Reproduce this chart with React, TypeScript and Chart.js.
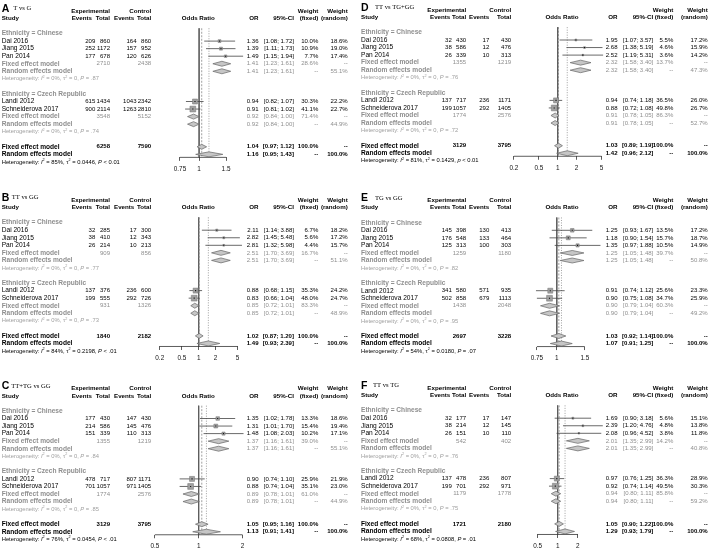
import React, { useEffect, useRef } from "react";
import { Chart, registerables } from "chart.js";

Chart.register(...registerables);

// ---------------- shared labels ----------------
const STUDIES = ["Dai 2016", "Jiang 2015", "Pan 2014", "Landi 2012", "Schneiderova 2017"];
const GROUP_LABELS = ["Ethnicity = Chinese", "Ethnicity = Czech Republic"];

// ---------------- Panel A: T vs G ----------------
const A_EXP_EV = [209, 252, 177, 615, 900];
const A_EXP_N = [860, 1172, 678, 1434, 2114];
const A_CTL_EV = [164, 157, 120, 1043, 1263];
const A_CTL_N = [860, 952, 626, 2342, 2810];
const A_OR = [1.36, 1.39, 1.49, 0.94, 0.91];
const A_LO = [1.08, 1.11, 1.15, 0.82, 0.81];
const A_HI = [1.72, 1.73, 1.94, 1.07, 1.02];
const A_WF = [10.0, 10.9, 7.7, 30.3, 41.1];
const A_WR = [18.6, 19.0, 17.4, 22.2, 22.7];
const A_POOL_OR = [1.41, 1.41, 0.92, 0.92, 1.04, 1.16];
const A_POOL_LO = [1.23, 1.23, 0.84, 0.84, 0.97, 0.95];
const A_POOL_HI = [1.61, 1.61, 1.0, 1.0, 1.12, 1.43];
const A_POOL_W = [28.6, 55.1, 71.4, 44.9, 100.0, 100.0];
const A_SUM_EXP = [2710, 3548, 6258];
const A_SUM_CTL = [2438, 5152, 7590];
const A_HET_I2 = ["0%", "0%", "85%"];
const A_HET_TAU2 = ["0", "0", "0.0446"];
const A_HET_P = ["P = .87", "P = .74", "P < 0.01"];
const A_TICKS = [0.75, 1, 1.5];

// ---------------- Panel B: TT vs GG ----------------
const B_EXP_EV = [32, 38, 26, 137, 199];
const B_EXP_N = [285, 410, 214, 376, 555];
const B_CTL_EV = [17, 12, 10, 236, 292];
const B_CTL_N = [300, 343, 213, 600, 726];
const B_OR = [2.11, 2.82, 2.81, 0.88, 0.83];
const B_LO = [1.14, 1.45, 1.32, 0.68, 0.66];
const B_HI = [3.88, 5.48, 5.98, 1.15, 1.04];
const B_WF = [6.7, 5.6, 4.4, 35.3, 48.0];
const B_WR = [18.2, 17.2, 15.7, 24.2, 24.7];
const B_POOL_OR = [2.51, 2.51, 0.85, 0.85, 1.02, 1.49];
const B_POOL_LO = [1.7, 1.7, 0.72, 0.72, 0.87, 0.93];
const B_POOL_HI = [3.69, 3.69, 1.01, 1.01, 1.2, 2.39];
const B_POOL_W = [16.7, 51.1, 83.3, 48.9, 100.0, 100.0];
const B_SUM_EXP = [909, 931, 1840];
const B_SUM_CTL = [856, 1326, 2182];
const B_HET_I2 = ["0%", "0%", "84%"];
const B_HET_TAU2 = ["0", "0", "0.2198"];
const B_HET_P = ["P = .77", "P = .73", "P < .01"];
const B_TICKS = [0.2, 0.5, 1, 2, 5];

// ---------------- Panel C: TT+TG vs GG ----------------
const C_EXP_EV = [177, 214, 151, 478, 701];
const C_EXP_N = [430, 586, 339, 717, 1057];
const C_CTL_EV = [147, 145, 110, 807, 971];
const C_CTL_N = [430, 476, 313, 1171, 1405];
const C_OR = [1.35, 1.31, 1.48, 0.9, 0.88];
const C_LO = [1.02, 1.01, 1.08, 0.74, 0.74];
const C_HI = [1.78, 1.7, 2.03, 1.1, 1.04];
const C_WF = [13.3, 15.4, 10.2, 25.9, 35.1];
const C_WR = [18.6, 19.4, 17.1, 21.9, 23.0];
const C_POOL_OR = [1.37, 1.37, 0.89, 0.89, 1.05, 1.13];
const C_POOL_LO = [1.16, 1.16, 0.78, 0.78, 0.95, 0.91];
const C_POOL_HI = [1.61, 1.61, 1.01, 1.01, 1.16, 1.41];
const C_POOL_W = [39.0, 55.1, 61.0, 44.9, 100.0, 100.0];
const C_SUM_EXP = [1355, 1774, 3129];
const C_SUM_CTL = [1219, 2576, 3795];
const C_HET_I2 = ["0%", "0%", "76%"];
const C_HET_TAU2 = ["0", "0", "0.0454"];
const C_HET_P = ["P = .84", "P = .85", "P < .01"];
const C_TICKS = [0.5, 1, 2];

// ---------------- Panel D: TT vs TG+GG ----------------
const D_EXP_EV = [32, 38, 26, 137, 199];
const D_EXP_N = [430, 586, 339, 717, 1057];
const D_CTL_EV = [17, 12, 10, 236, 292];
const D_CTL_N = [430, 476, 313, 1171, 1405];
const D_OR = [1.95, 2.68, 2.52, 0.94, 0.88];
const D_LO = [1.07, 1.38, 1.19, 0.74, 0.72];
const D_HI = [3.57, 5.19, 5.31, 1.18, 1.08];
const D_WF = [5.5, 4.6, 3.6, 36.5, 49.8];
const D_WR = [17.2, 15.9, 14.2, 26.0, 26.7];
const D_POOL_OR = [2.32, 2.32, 0.91, 0.91, 1.03, 1.42];
const D_POOL_LO = [1.58, 1.58, 0.78, 0.78, 0.89, 0.96];
const D_POOL_HI = [3.4, 3.4, 1.05, 1.05, 1.19, 2.12];
const D_POOL_W = [13.7, 47.3, 86.3, 52.7, 100.0, 100.0];
const D_SUM_EXP = [1355, 1774, 3129];
const D_SUM_CTL = [1219, 2576, 3795];
const D_HET_I2 = ["0%", "0%", "81%"];
const D_HET_TAU2 = ["0", "0", "0.1429"];
const D_HET_P = ["P = .76", "P = .72", "p < 0.01"];
const D_TICKS = [0.2, 0.5, 1, 2, 5];

// ---------------- Panel E: TG vs GG ----------------
const E_EXP_EV = [145, 176, 125, 341, 502];
const E_EXP_N = [398, 548, 313, 580, 858];
const E_CTL_EV = [130, 133, 100, 571, 679];
const E_CTL_N = [413, 464, 303, 935, 1113];
const E_OR = [1.25, 1.18, 1.35, 0.91, 0.9];
const E_LO = [0.93, 0.9, 0.97, 0.74, 0.75];
const E_HI = [1.67, 1.54, 1.88, 1.12, 1.08];
const E_WF = [13.5, 15.7, 10.5, 25.6, 34.7];
const E_WR = [17.2, 18.7, 14.9, 23.3, 25.9];
const E_POOL_OR = [1.25, 1.25, 0.9, 0.9, 1.03, 1.07];
const E_POOL_LO = [1.05, 1.05, 0.79, 0.79, 0.92, 0.91];
const E_POOL_HI = [1.48, 1.48, 1.04, 1.04, 1.14, 1.25];
const E_POOL_W = [39.7, 50.8, 60.3, 49.2, 100.0, 100.0];
const E_SUM_EXP = [1259, 1438, 2697];
const E_SUM_CTL = [1180, 2048, 3228];
const E_HET_I2 = ["0%", "0%", "54%"];
const E_HET_TAU2 = ["0", "0", "0.0180"];
const E_HET_P = ["P = .82", "P = .95", "P = .07"];
const E_TICKS = [0.75, 1, 1.5];

// ---------------- Panel F: TT vs TG ----------------
const F_EXP_EV = [32, 38, 26, 137, 199];
const F_EXP_N = [177, 214, 151, 478, 701];
const F_CTL_EV = [17, 12, 10, 236, 292];
const F_CTL_N = [147, 145, 110, 807, 971];
const F_OR = [1.69, 2.39, 2.08, 0.97, 0.92];
const F_LO = [0.9, 1.2, 0.96, 0.76, 0.74];
const F_HI = [3.18, 4.76, 4.52, 1.25, 1.14];
const F_WF = [5.6, 4.8, 3.8, 36.3, 49.5];
const F_WR = [15.1, 13.8, 11.8, 28.9, 30.3];
const F_POOL_OR = [2.01, 2.01, 0.94, 0.94, 1.05, 1.29];
const F_POOL_LO = [1.35, 1.35, 0.8, 0.8, 0.9, 0.93];
const F_POOL_HI = [2.99, 2.99, 1.11, 1.11, 1.22, 1.79];
const F_POOL_W = [14.2, 40.8, 85.8, 59.2, 100.0, 100.0];
const F_SUM_EXP = [542, 1179, 1721];
const F_SUM_CTL = [402, 1778, 2180];
const F_HET_I2 = ["0%", "0%", "68%"];
const F_HET_TAU2 = ["0", "0", "0.0808"];
const F_HET_P = ["P = .76", "P = .75", "P = .01"];
const F_TICKS = [0.5, 1, 2];

// ---------------- layout / style ----------------
const FONT = '"Liberation Sans", Arial, Helvetica, sans-serif';
const SERIF = '"Liberation Serif", "Times New Roman", serif';
const W = 709;
const H = 550;
const CH = 590; // canvas height (taller than page so bottom tick labels are not clipped)
const ROW_H = 7.55;
const AXIS_ROW = 19.4;
const AXIS_BOX = 20;
const DIAMOND_HALF = 0.33;
const SQUARE_MAX = 5.8;
const FS_LABEL = 6.6;
const FS_HEAD = 6.2;
const FS_NUM = 6.05;
const FS_HET = 5.8;
const BLACK = "#000";
const GRAY = "#8f8f8f";
const HET_GRAY = "#a0a0a0";

const STUDY_ROWS = [4, 5, 6, 12, 13];
const POOL_ROWS = [7, 8, 14, 15, 18, 19];
const GROUP_ROWS = [3, 11];
const GROUP_STUDIES = [[0, 1, 2], [3, 4]];

type Cols = {
  name: number; ev1: number; ev1H: number; tot1: number; ev2: number; ev2H: number; tot2: number;
  orTitle: number; or: number; ci: number; wf: number; wr: number; plotL: number; plotR: number;
};
const COLS_L: Cols = {
  name: 1.7, ev1: 95.3, ev1H: 92, tot1: 110, ev2: 136.5, ev2H: 134.3, tot2: 151.2,
  orTitle: 198.3, or: 258.5, ci: 294, wf: 318.3, wr: 347.7, plotL: 150, plotR: 256,
};
const COLS_R: Cols = {
  name: 361, ev1: 451.8, ev1H: 450.3, tot1: 466.2, ev2: 489.3, ev2H: 489.3, tot2: 511.2,
  orTitle: 562, or: 617.5, ci: 653.3, wf: 673.3, wr: 707.7, plotL: 505, plotR: 612,
};

type Panel = {
  letter: string; title: string;
  expEv: number[]; expN: number[]; ctlEv: number[]; ctlN: number[];
  or: number[]; lo: number[]; hi: number[]; wf: number[]; wr: number[];
  poolOr: number[]; poolLo: number[]; poolHi: number[]; poolW: number[];
  sumExp: number[]; sumCtl: number[];
  hetI2: string[]; hetTau2: string[]; hetP: string[];
  ticks: number[];
  cols: Cols; row0: number; c1: number; k: number; subX: number;
};

const PANELS: Panel[] = [
  { letter: "A", title: "T vs G", expEv: A_EXP_EV, expN: A_EXP_N, ctlEv: A_CTL_EV, ctlN: A_CTL_N, or: A_OR, lo: A_LO, hi: A_HI, wf: A_WF, wr: A_WR, poolOr: A_POOL_OR, poolLo: A_POOL_LO, poolHi: A_POOL_HI, poolW: A_POOL_W, sumExp: A_SUM_EXP, sumCtl: A_SUM_CTL, hetI2: A_HET_I2, hetTau2: A_HET_TAU2, hetP: A_HET_P, ticks: A_TICKS, cols: COLS_L, row0: 10.9, c1: 199.1, k: 66.4, subX: 13.3 },
  { letter: "B", title: "TT vs GG", expEv: B_EXP_EV, expN: B_EXP_N, ctlEv: B_CTL_EV, ctlN: B_CTL_N, or: B_OR, lo: B_LO, hi: B_HI, wf: B_WF, wr: B_WR, poolOr: B_POOL_OR, poolLo: B_POOL_LO, poolHi: B_POOL_HI, poolW: B_POOL_W, sumExp: B_SUM_EXP, sumCtl: B_SUM_CTL, hetI2: B_HET_I2, hetTau2: B_HET_TAU2, hetP: B_HET_P, ticks: B_TICKS, cols: COLS_L, row0: 200.0, c1: 198.7, k: 24.2, subX: 11.7 },
  { letter: "C", title: "TT+TG vs GG", expEv: C_EXP_EV, expN: C_EXP_N, ctlEv: C_CTL_EV, ctlN: C_CTL_N, or: C_OR, lo: C_LO, hi: C_HI, wf: C_WF, wr: C_WR, poolOr: C_POOL_OR, poolLo: C_POOL_LO, poolHi: C_POOL_HI, poolW: C_POOL_W, sumExp: C_SUM_EXP, sumCtl: C_SUM_CTL, hetI2: C_HET_I2, hetTau2: C_HET_TAU2, hetP: C_HET_P, ticks: C_TICKS, cols: COLS_L, row0: 388.3, c1: 198.7, k: 63.3, subX: 11.2 },
  { letter: "D", title: "TT vs TG+GG", expEv: D_EXP_EV, expN: D_EXP_N, ctlEv: D_CTL_EV, ctlN: D_CTL_N, or: D_OR, lo: D_LO, hi: D_HI, wf: D_WF, wr: D_WR, poolOr: D_POOL_OR, poolLo: D_POOL_LO, poolHi: D_POOL_HI, poolW: D_POOL_W, sumExp: D_SUM_EXP, sumCtl: D_SUM_CTL, hetI2: D_HET_I2, hetTau2: D_HET_TAU2, hetP: D_HET_P, ticks: D_TICKS, cols: COLS_R, row0: 9.8, c1: 557.7, k: 27.2, subX: 375 },
  { letter: "E", title: "TG vs GG", expEv: E_EXP_EV, expN: E_EXP_N, ctlEv: E_CTL_EV, ctlN: E_CTL_N, or: E_OR, lo: E_LO, hi: E_HI, wf: E_WF, wr: E_WR, poolOr: E_POOL_OR, poolLo: E_POOL_LO, poolHi: E_POOL_HI, poolW: E_POOL_W, sumExp: E_SUM_EXP, sumCtl: E_SUM_CTL, hetI2: E_HET_I2, hetTau2: E_HET_TAU2, hetP: E_HET_P, ticks: E_TICKS, cols: COLS_R, row0: 200.1, c1: 556.8, k: 69.2, subX: 375 },
  { letter: "F", title: "TT vs TG", expEv: F_EXP_EV, expN: F_EXP_N, ctlEv: F_CTL_EV, ctlN: F_CTL_N, or: F_OR, lo: F_LO, hi: F_HI, wf: F_WF, wr: F_WR, poolOr: F_POOL_OR, poolLo: F_POOL_LO, poolHi: F_POOL_HI, poolW: F_POOL_W, sumExp: F_SUM_EXP, sumCtl: F_SUM_CTL, hetI2: F_HET_I2, hetTau2: F_HET_TAU2, hetP: F_HET_P, ticks: F_TICKS, cols: COLS_R, row0: 388.0, c1: 557.7, k: 28.9, subX: 373 },
];

const fmtOr = (v: number) => v.toFixed(2);
const fmtCi = (lo: number, hi: number) => `[${lo.toFixed(2)}; ${hi.toFixed(2)}]`;
const fmtW = (w: number) => `${w.toFixed(1)}%`;

function buildDatasets(p: Panel) {
  const maxW = Math.max(...p.wf);
  const base = { clip: false, tension: 0, pointRadius: 0, pointHoverRadius: 0, fill: false };
  const studyPts = p.or.map((v, i) => ({ x: v, y: STUDY_ROWS[i] }));
  const ds: any[] = [];
  // point estimate marker
  ds.push({
    ...base, showLine: false, data: studyPts, pointStyle: "rect", pointRadius: 0.8,
    pointBackgroundColor: "#111", pointBorderColor: "#111", pointBorderWidth: 0,
  });
  // weighted squares
  ds.push({
    ...base, showLine: false, data: studyPts, pointStyle: "rect",
    pointRadius: p.wf.map((w) => (SQUARE_MAX * Math.sqrt(w / maxW)) / Math.SQRT2),
    pointBackgroundColor: "#a0a0a0", pointBorderColor: "#727272", pointBorderWidth: 0.5,
  });
  // confidence intervals
  p.or.forEach((_, i) => {
    ds.push({
      ...base,
      data: [{ x: p.lo[i], y: STUDY_ROWS[i] }, { x: p.hi[i], y: STUDY_ROWS[i] }],
      borderColor: "#444", borderWidth: 0.8,
    });
  });
  // pooled diamonds
  p.poolOr.forEach((v, j) => {
    const r = POOL_ROWS[j];
    ds.push({
      ...base,
      data: [
        { x: p.poolLo[j], y: r },
        { x: v, y: r - DIAMOND_HALF },
        { x: p.poolHi[j], y: r },
        { x: v, y: r + DIAMOND_HALF },
        { x: p.poolLo[j], y: r },
      ],
      fill: "shape", backgroundColor: "#c6c6c6", borderColor: "#666", borderWidth: 0.7,
    });
  });
  // axis line between first and last tick
  ds.push({
    ...base,
    data: [{ x: p.ticks[0], y: AXIS_ROW }, { x: p.ticks[p.ticks.length - 1], y: AXIS_ROW }],
    borderColor: "#333", borderWidth: 0.8,
  });
  // random-effects line (dotted)
  ds.push({
    ...base, data: [{ x: p.poolOr[5], y: 2.3 }, { x: p.poolOr[5], y: AXIS_ROW }],
    borderColor: "#888", borderWidth: 0.8, borderDash: [1, 1.5],
  });
  // fixed-effect line (dashed)
  ds.push({
    ...base, data: [{ x: p.poolOr[4], y: 2.3 }, { x: p.poolOr[4], y: AXIS_ROW }],
    borderColor: "#888", borderWidth: 0.8, borderDash: [2, 1.5],
  });
  // reference line at 1
  ds.push({
    ...base, data: [{ x: 1, y: 2.3 }, { x: 1, y: AXIS_ROW }],
    borderColor: "#555", borderWidth: 0.8,
  });
  return ds;
}

function drawHet(ctx: CanvasRenderingContext2D, x: number, y: number, i2: string, tau2: string, pStr: string, color: string) {
  let cx = x;
  ctx.fillStyle = color;
  ctx.textAlign = "left";
  ctx.textBaseline = "middle";
  const seg = (t: string, style = "", sz = FS_HET, dy = 0) => {
    ctx.font = `${style ? style + " " : ""}${sz}px ${FONT}`;
    ctx.fillText(t, cx, y + dy);
    cx += ctx.measureText(t).width;
  };
  seg("Heterogeneity: ");
  seg("I", "italic");
  seg("2", "", FS_HET * 0.65, -FS_HET * 0.35);
  seg(` = ${i2}, `);
  seg("\u03c4");
  seg("2", "", FS_HET * 0.65, -FS_HET * 0.35);
  seg(` = ${tau2}, `);
  seg(pStr.slice(0, 1), "italic");
  seg(pStr.slice(1));
}

function textPlugin(p: Panel) {
  return {
    id: "forestText" + p.letter,
    afterDraw(chart: any) {
      const ctx: CanvasRenderingContext2D = chart.ctx;
      const ys = chart.scales.y;
      const Y = (r: number) => ys.getPixelForValue(r);
      const c = p.cols;
      const put = (s: string, x: number, r: number, align: CanvasTextAlign = "left", bold = false, color = BLACK, size = FS_LABEL, family = FONT) => {
        ctx.font = `${bold ? "bold " : ""}${size}px ${family}`;
        ctx.fillStyle = color;
        ctx.textAlign = align;
        ctx.textBaseline = "middle";
        ctx.fillText(s, x, Y(r));
      };
      const num = (s: string, x: number, r: number, bold = false, color = BLACK) =>
        put(s, x, r, "right", bold, color, FS_NUM);
      const head = (s: string, x: number, r: number, align: CanvasTextAlign = "right") =>
        put(s, x, r, align, true, BLACK, FS_HEAD);
      ctx.save();
      // title
      put(p.letter, c.name, -0.25, "left", true, "#000", 10.5);
      put(p.title, p.subX, -0.3, "left", false, "#000", 6.6, SERIF);
      // headers
      head("Experimental", c.tot1, 0);
      head("Control", c.tot2, 0);
      head("Weight", c.wf, 0);
      head("Weight", c.wr, 0);
      head("Study", c.name, 1, "left");
      head("Events", c.ev1H, 1);
      head("Total", c.tot1, 1);
      head("Events", c.ev2H, 1);
      head("Total", c.tot2, 1);
      head("Odds Ratio", c.orTitle, 1, "center");
      head("OR", c.or, 1);
      head("95%-CI", c.ci, 1);
      head("(fixed)", c.wf, 1);
      head("(random)", c.wr, 1);
      // subgroups
      GROUP_STUDIES.forEach((idxs, g) => {
        const gr = GROUP_ROWS[g];
        put(GROUP_LABELS[g], c.name, gr, "left", true, GRAY);
        idxs.forEach((i) => {
          const r = STUDY_ROWS[i];
          put(STUDIES[i], c.name, r);
          num(String(p.expEv[i]), c.ev1, r);
          num(String(p.expN[i]), c.tot1, r);
          num(String(p.ctlEv[i]), c.ev2, r);
          num(String(p.ctlN[i]), c.tot2, r);
          num(fmtOr(p.or[i]), c.or, r);
          num(fmtCi(p.lo[i], p.hi[i]), c.ci, r);
          num(fmtW(p.wf[i]), c.wf, r);
          num(fmtW(p.wr[i]), c.wr, r);
        });
        const fr = POOL_ROWS[g * 2];
        const rr = POOL_ROWS[g * 2 + 1];
        put("Fixed effect model", c.name, fr, "left", true, GRAY);
        num(String(p.sumExp[g]), c.tot1, fr, false, GRAY);
        num(String(p.sumCtl[g]), c.tot2, fr, false, GRAY);
        num(fmtOr(p.poolOr[g * 2]), c.or, fr, false, GRAY);
        num(fmtCi(p.poolLo[g * 2], p.poolHi[g * 2]), c.ci, fr, false, GRAY);
        num(fmtW(p.poolW[g * 2]), c.wf, fr, false, GRAY);
        num("--", c.wr, fr, false, GRAY);
        put("Random effects model", c.name, rr, "left", true, GRAY);
        num(fmtOr(p.poolOr[g * 2 + 1]), c.or, rr, false, GRAY);
        num(fmtCi(p.poolLo[g * 2 + 1], p.poolHi[g * 2 + 1]), c.ci, rr, false, GRAY);
        num("--", c.wf, rr, false, GRAY);
        num(fmtW(p.poolW[g * 2 + 1]), c.wr, rr, false, GRAY);
        drawHet(ctx, c.name, Y(rr + 1), p.hetI2[g], p.hetTau2[g], p.hetP[g], HET_GRAY);
      });
      // overall
      const of = POOL_ROWS[4];
      const orr = POOL_ROWS[5];
      put("Fixed effect model", c.name, of, "left", true);
      num(String(p.sumExp[2]), c.tot1, of, true);
      num(String(p.sumCtl[2]), c.tot2, of, true);
      num(fmtOr(p.poolOr[4]), c.or, of, true);
      num(fmtCi(p.poolLo[4], p.poolHi[4]), c.ci, of, true);
      num(fmtW(p.poolW[4]), c.wf, of, true);
      num("--", c.wr, of, true);
      put("Random effects model", c.name, orr, "left", true);
      num(fmtOr(p.poolOr[5]), c.or, orr, true);
      num(fmtCi(p.poolLo[5], p.poolHi[5]), c.ci, orr, true);
      num("--", c.wf, orr, true);
      num(fmtW(p.poolW[5]), c.wr, orr, true);
      drawHet(ctx, c.name, Y(orr + 1), p.hetI2[2], p.hetTau2[2], p.hetP[2], BLACK);
      ctx.restore();
    },
  };
}

function ForestPanel({ panel }: { panel: Panel }) {
  const ref = useRef<HTMLCanvasElement | null>(null);
  useEffect(() => {
    const p = panel;
    const c = p.cols;
    const xMin = Math.exp((c.plotL - p.c1) / p.k);
    const xMax = Math.exp((c.plotR - p.c1) / p.k);
    const chartBottom = p.row0 + AXIS_ROW * ROW_H;
    const chart = new Chart(ref.current as HTMLCanvasElement, {
      type: "line",
      data: { datasets: buildDatasets(p) },
      options: {
        animation: false,
        responsive: false,
        devicePixelRatio: 1,
        events: [],
        layout: {
          padding: { left: c.plotL, right: W - c.plotR, top: p.row0, bottom: CH - chartBottom - AXIS_BOX },
        },
        plugins: { legend: { display: false }, tooltip: { enabled: false }, title: { display: false } },
        scales: {
          x: {
            type: "logarithmic",
            min: xMin,
            max: xMax,
            bounds: "data",
            afterBuildTicks: (s: any) => {
              s.ticks = p.ticks.map((v) => ({ value: v }));
            },
            afterFit: (s: any) => {
              s.height = AXIS_BOX;
            },
            ticks: {
              autoSkip: false,
              maxRotation: 0,
              minRotation: 0,
              padding: 4.5,
              color: "#111",
              font: { family: FONT, size: 6.4 },
              callback: (_v: any, i: number) => String(p.ticks[i]),
            },
            grid: { display: true, drawOnChartArea: false, drawTicks: true, tickLength: 3.5, color: "#333", lineWidth: 0.8 },
            border: { display: false },
          },
          y: { type: "linear", reverse: true, min: 0, max: AXIS_ROW, display: false },
        },
      } as any,
      plugins: [textPlugin(p)],
    });
    return () => chart.destroy();
  }, [panel]);
  return (
    <canvas
      ref={ref}
      width={W}
      height={CH}
      style={{ position: "absolute", left: 0, top: 0, width: W, height: CH, display: "block" }}
    />
  );
}

export default function App() {
  return (
    <div style={{ position: "absolute", left: 0, top: 0, width: W, height: H, background: "#fff", overflow: "hidden" }}>
      {PANELS.map((p) => (
        <ForestPanel key={p.letter} panel={p} />
      ))}
    </div>
  );
}
